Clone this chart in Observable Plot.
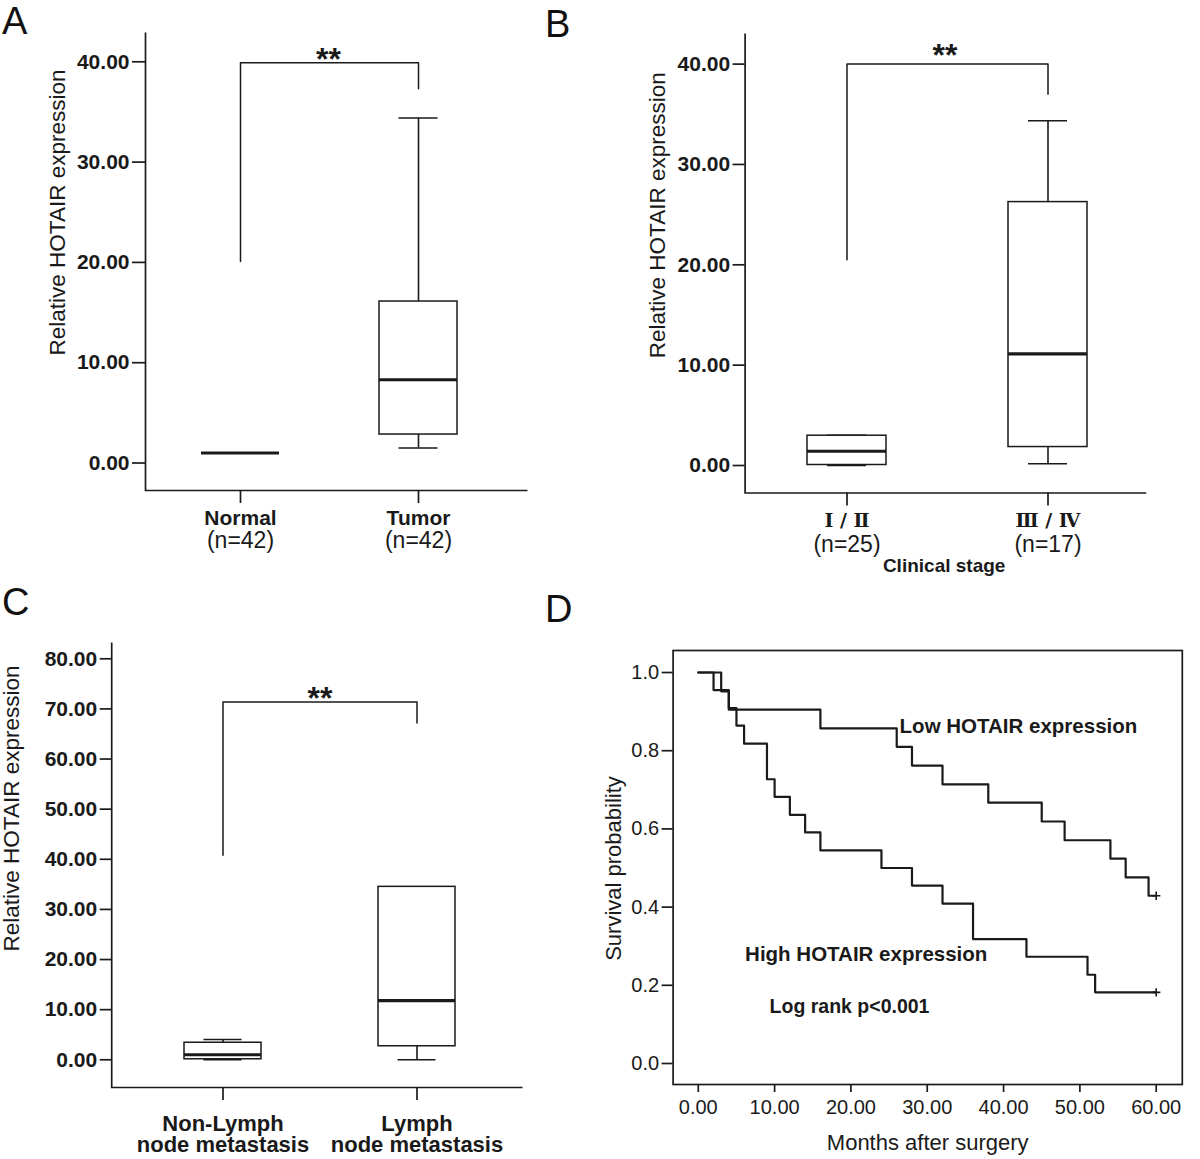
<!DOCTYPE html>
<html><head><meta charset="utf-8">
<script src="https://cdn.jsdelivr.net/npm/d3@7"></script>
<script src="https://cdn.jsdelivr.net/npm/@observablehq/plot@0.6"></script>
<style>
html,body{margin:0;padding:0;background:#fff;}
#fig{position:relative;width:1200px;height:1159px;overflow:hidden;font-family:"Liberation Sans",Arial,sans-serif;color:#111;background:#fff;}
.panel{position:absolute;}
.letter{position:absolute;font-size:38px;line-height:1;font-family:"Liberation Sans",Arial,sans-serif;color:#111;}
</style></head><body>
<div id="fig"></div>
<script>
// ---------- Panel A data ----------
const groupsA = ["Normal", "Tumor"];
const countsA = ["(n=42)", "(n=42)"];
const minA = [1.0, 1.5];
const q1A = [1.0, 2.84];
const medA = [1.0, 8.3];
const q3A = [1.0, 16.1];
const maxA = [1.0, 34.4];
const bracketA = [20.1, 39.9, 37.3];   // left leg end, bar, right leg end
const ticksA = [0, 10, 20, 30, 40];

// ---------- Panel B data ----------
const groupsB = ["Ⅰ / Ⅱ", "Ⅲ / Ⅳ"];
const countsB = ["(n=25)", "(n=17)"];
const minB = [0.0, 0.18];
const q1B = [0.05, 1.84];
const medB = [1.42, 11.13];
const q3B = [2.97, 26.25];
const maxB = [3.0, 34.36];
const bracketB = [20.5, 40.0, 37.0];
const ticksB = [0, 10, 20, 30, 40];

// ---------- Panel C data ----------
const groupsC = ["Non-Lymph\nnode metastasis", "Lymph\nnode metastasis"];
const minC = [0.0, 0.0];
const q1C = [0.1, 2.7];
const medC = [1.0, 11.8];
const q3C = [3.4, 34.5];
const maxC = [4.05, 34.5];
const bracketC = [40.8, 71.4, 67.2];
const ticksC = [0, 10, 20, 30, 40, 50, 60, 70, 80];

// ---------- Panel D data ----------
const monthsLow = [0, 3, 4, 16, 26, 28, 32, 38, 45, 48, 54, 56, 59, 60];
const survLow   = [1.0, 0.952, 0.905, 0.857, 0.810, 0.762, 0.714, 0.667, 0.619, 0.571, 0.524, 0.476, 0.429, 0.429];
const monthsHigh = [0, 2, 4, 5, 6, 9, 10, 12, 14, 16, 24, 28, 32, 36, 43, 51, 52, 60];
const survHigh   = [1.0, 0.955, 0.909, 0.864, 0.818, 0.727, 0.682, 0.636, 0.591, 0.545, 0.500, 0.455, 0.409, 0.318, 0.273, 0.227, 0.182, 0.182];
const ticksDx = [0, 10, 20, 30, 40, 50, 60];
const ticksDy = [0, 0.2, 0.4, 0.6, 0.8, 1.0];

const INK = "#1a1a1a";
const FONT = "'Liberation Sans', Arial, sans-serif";
const fig = document.getElementById("fig");

function place(el, left, top, w, h) {
  const d = document.createElement("div");
  d.className = "panel";
  d.style.left = left + "px"; d.style.top = top + "px";
  d.style.width = w + "px"; d.style.height = h + "px";
  d.appendChild(el);
  fig.appendChild(d);
}
function letter(t, left, top) {
  const d = document.createElement("div");
  d.className = "letter"; d.textContent = t;
  d.style.left = left + "px"; d.style.top = top + "px";
  fig.appendChild(d);
}

function boxPanel(c) {
  const rows = c.groups.map((g, i) => ({g, min: c.min[i], q1: c.q1[i], med: c.med[i], q3: c.q3[i], max: c.max[i]}));
  const br = [
    {g: c.groups[0], v: c.bracket[0]},
    {g: c.groups[0], v: c.bracket[1]},
    {g: c.groups[1], v: c.bracket[1]},
    {g: c.groups[1], v: c.bracket[2]}
  ];
  const W = c.width - c.ml - c.mr, H = c.height - c.mt - c.mb;
  const marks = [
    Plot.frame({stroke: INK, strokeWidth: 1.7, strokeDasharray: `0 ${W + H} ${W + H + 20}`}),
    Plot.axisY({ticks: c.ticks, tickFormat: d => d.toFixed(2), tickSize: c.tys, tickPadding: 3,
      fontSize: 21, fontWeight: "bold", strokeWidth: 1.7, stroke: INK, label: null}),
    Plot.axisX({tickSize: 13, tickFormat: () => "", strokeWidth: 1.7, stroke: INK, label: null}),
    Plot.ruleX(rows, {x: "g", y1: "q3", y2: "max", stroke: INK, strokeWidth: 1.6}),
    Plot.ruleX(rows, {x: "g", y1: "min", y2: "q1", stroke: INK, strokeWidth: 1.6}),
    Plot.tickY(rows, {x: "g", y: "max", insetLeft: c.cap, insetRight: c.cap, stroke: INK, strokeWidth: 1.6}),
    Plot.tickY(rows, {x: "g", y: "min", insetLeft: c.cap, insetRight: c.cap, stroke: INK, strokeWidth: 1.6}),
    Plot.barY(rows, {x: "g", y1: "q1", y2: "q3", fill: "white", stroke: INK, strokeWidth: 1.5, inset: 0}),
    Plot.tickY(rows, {x: "g", y: "med", stroke: INK, strokeWidth: 3.2}),
    Plot.line(br, {x: "g", y: "v", stroke: INK, strokeWidth: 1.5}),
    Plot.text(["**"], {x: () => c.groups[0], y: () => c.bracket[1], text: d => d, dx: c.starDx, dy: c.starDy,
      fontSize: 32, fontWeight: "bold", fill: INK}),
    Plot.text([c.ylabel], {frameAnchor: "left", rotate: -90, text: d => d, textAnchor: "middle", lineAnchor: "middle",
      dx: c.ylDx, dy: c.ylDy, fontSize: 22.5, fill: INK})
  ];
  return Plot.plot({
    width: c.width, height: c.height,
    marginLeft: c.ml, marginRight: c.mr, marginTop: c.mt, marginBottom: c.mb,
    style: {fontFamily: FONT, background: "transparent", color: INK, overflow: "visible"},
    x: {type: "band", domain: c.groups, range: c.xRange, paddingInner: c.pi, paddingOuter: 0},
    y: {domain: c.yDomain},
    marks: marks.concat(c.extra(rows))
  });
}

// Panel A
place(boxPanel({
  groups: groupsA, min: minA, q1: q1A, med: medA, q3: q3A, max: maxA, bracket: bracketA, ticks: ticksA,
  width: 540, height: 580, ml: 145, mr: 13, mt: 32, mb: 90, tys: 13, cap: 19.5,
  xRange: [201, 457], pi: 0.5618, yDomain: [-2.74, 42.92],
  starDx: 88, starDy: -3, ylabel: "Relative HOTAIR expression", ylDx: -88, ylDy: -49,
  extra: rows => [
    Plot.text(rows, {x: "g", text: "g", frameAnchor: "bottom", lineAnchor: "top", dy: 20, fontSize: 21, fontWeight: "bold", fill: INK}),
    Plot.text(countsA, {x: (d, i) => groupsA[i], text: d => d, frameAnchor: "bottom", lineAnchor: "top", dy: 41, fontSize: 23, fill: INK})
  ]
}), 0, 0, 540, 580);

// Panel B
place(boxPanel({
  groups: groupsB, min: minB, q1: q1B, med: medB, q3: q3B, max: maxB, bracket: bracketB, ticks: ticksB,
  width: 660, height: 580, ml: 204.6, mr: 54.3, mt: 33, mb: 87.5, tys: 12, cap: 20,
  xRange: [266.9, 547.1], pi: 0.6068, yDomain: [-2.74, 43.05],
  starDx: 98, starDy: -8, ylabel: "Relative HOTAIR expression", ylDx: -87.5, ylDy: -48,
  extra: rows => [
    Plot.text(rows, {x: "g", text: "g", frameAnchor: "bottom", lineAnchor: "top", dy: 20, fontSize: 19,
      fontWeight: "bold", fontFamily: "'DejaVu Serif', 'Liberation Serif', serif", fill: INK}),
    Plot.text(countsB, {x: (d, i) => groupsB[i], text: d => d, frameAnchor: "bottom", lineAnchor: "top", dy: 43, fontSize: 23, fill: INK}),
    Plot.text(["Clinical stage"], {frameAnchor: "bottom", text: d => d, lineAnchor: "top", dx: -1.5, dy: 65, fontSize: 19, fontWeight: "bold", fill: INK})
  ]
}), 540, 0, 660, 580);

// Panel C
place(boxPanel({
  groups: groupsC, min: minC, q1: q1C, med: medC, q3: q3C, max: maxC, bracket: bracketC, ticks: ticksC,
  width: 540, height: 579, ml: 111.2, mr: 18, mt: 62, mb: 72, tys: 11.5, cap: 19.5,
  xRange: [183.5, 455.5], pi: 0.601, yDomain: [-5.53, 83.25],
  starDx: 97, starDy: -3.5, ylabel: "Relative HOTAIR expression", ylDx: -100, ylDy: -56.5,
  extra: rows => [
    Plot.text(rows, {x: "g", text: "g", frameAnchor: "bottom", lineAnchor: "top", dy: 28, lineHeight: 0.98, fontSize: 22, fontWeight: "bold", fill: INK})
  ]
}), 0, 580, 540, 579);

// Panel D
const lowRows = monthsLow.map((m, i) => ({m, s: survLow[i]}));
const highRows = monthsHigh.map((m, i) => ({m, s: survHigh[i]}));
const censored = [lowRows[lowRows.length - 1], highRows[highRows.length - 1]];
place(Plot.plot({
  width: 660, height: 579, marginLeft: 132.6, marginRight: 18.2, marginTop: 70, marginBottom: 75,
  style: {fontFamily: FONT, background: "transparent", color: INK, overflow: "visible"},
  x: {domain: [-3.3, 63.42]},
  y: {domain: [-0.0537, 1.0563]},
  marks: [
    Plot.frame({stroke: INK, strokeWidth: 1.7}),
    Plot.axisY({ticks: ticksDy, tickFormat: d => d.toFixed(1), tickSize: 11, tickPadding: 3, fontSize: 20, strokeWidth: 1.7, stroke: INK, label: null}),
    Plot.axisX({ticks: ticksDx, tickFormat: d => d.toFixed(2), tickSize: 8, tickPadding: 7, fontSize: 20, strokeWidth: 1.7, stroke: INK, label: null}),
    Plot.line(highRows, {x: "m", y: "s", curve: "step-after", stroke: INK, strokeWidth: 2.2}),
    Plot.line(lowRows, {x: "m", y: "s", curve: "step-after", stroke: INK, strokeWidth: 2.2}),
    Plot.dot(censored, {x: "m", y: "s", symbol: "plus", r: 2.8, stroke: INK, strokeWidth: 1.6}),
    Plot.text(["Low HOTAIR expression"], {frameAnchor: "top-left", text: d => d, textAnchor: "start", lineAnchor: "middle", dx: 226.5, dy: 76, fontSize: 20.5, fontWeight: "bold", fill: INK}),
    Plot.text(["High HOTAIR expression"], {frameAnchor: "top-left", text: d => d, textAnchor: "start", lineAnchor: "middle", dx: 72, dy: 304, fontSize: 20.5, fontWeight: "bold", fill: INK}),
    Plot.text(["Log rank p<0.001"], {frameAnchor: "top-left", text: d => d, textAnchor: "start", lineAnchor: "middle", dx: 96.5, dy: 356, fontSize: 19.5, fontWeight: "bold", fill: INK}),
    Plot.text(["Survival probability"], {frameAnchor: "left", rotate: -90, text: d => d, textAnchor: "middle", lineAnchor: "middle", dx: -59, dy: 1, fontSize: 22, fill: INK}),
    Plot.text(["Months after surgery"], {frameAnchor: "bottom", text: d => d, textAnchor: "middle", lineAnchor: "middle", dy: 58, fontSize: 22, fill: INK})
  ]
}), 540, 580, 660, 579);

letter("A", 2, 2);
letter("B", 545, 5);
letter("C", 2, 583);
letter("D", 545, 590);
</script>
</body></html>
